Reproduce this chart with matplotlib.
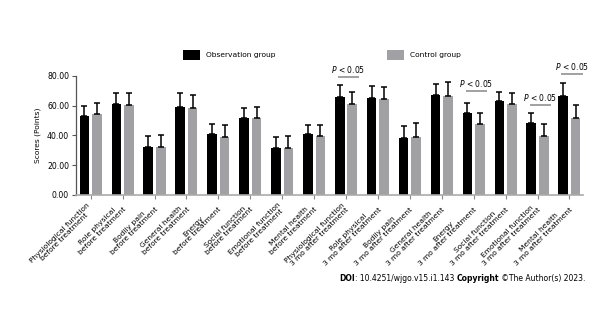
import numpy as np
import matplotlib
matplotlib.use("Agg")
import matplotlib.pyplot as plt
from matplotlib.patches import Patch

# Data
labels = [
    "Physiological function\nbefore treatment",
    "Role physical\nbefore treatment",
    "Bodily pain\nbefore treatment",
    "General health\nbefore treatment",
    "Energy\nbefore treatment",
    "Social function\nbefore treatment",
    "Emotional function\nbefore treatment",
    "Mental health\nbefore treatment",
    "Physiological function\n3 mo after treatment",
    "Role physical\n3 mo after treatment",
    "Bodily pain\n3 mo after treatment",
    "General health\n3 mo after treatment",
    "Energy\n3 mo after treatment",
    "Social function\n3 mo after treatment",
    "Emotional function\n3 mo after treatment",
    "Mental health\n3 mo after treatment",
]
obs_mean = [52.7, 60.7, 32.2, 59.2, 40.7, 51.6, 31.8, 40.6,
            65.6, 65.1, 38.4, 67.1, 55.3, 62.7, 48.2, 66.7]
obs_sd = [6.8, 8.0, 7.3, 8.9, 7.1, 6.8, 7.1, 6.2,
          8.2, 7.8, 7.8, 7.1, 6.5, 6.2, 6.9, 8.2]
ctl_mean = [54.6, 60.4, 32.2, 58.4, 38.9, 51.6, 31.5, 39.6,
            61.1, 64.4, 38.9, 66.7, 47.8, 61.1, 39.3, 51.6]
ctl_sd = [7.4, 8.0, 8.0, 8.9, 8.2, 7.7, 7.8, 7.1,
          7.8, 7.8, 9.3, 8.9, 7.1, 7.1, 8.0, 8.8]
sig_groups = [8, 12, 14, 15]
sig_offset = [5.0, 8.0, 5.0, 6.0]

fs = 5.4

fig = plt.figure(figsize=(6.1, 3.35), dpi=100)
ax = fig.add_axes([0.1246, 0.418, 0.956 - 0.1246, 0.774 - 0.418])

x = np.arange(len(labels))
w = 0.30
off = 0.196
gray = "#a1a1a5"
zeros = np.zeros(len(x))

ax.bar(x - off, obs_mean, w, color="black",
       yerr=[zeros, obs_sd], ecolor="black",
       error_kw=dict(elinewidth=1.1, capsize=2.2, capthick=1.1))
ax.bar(x + off, ctl_mean, w, color=gray,
       yerr=[zeros, ctl_sd], ecolor="black",
       error_kw=dict(elinewidth=1.1, capsize=2.2, capthick=1.1))

# significance marks
for g, o in zip(sig_groups, sig_offset):
    top = max(obs_mean[g] + obs_sd[g], ctl_mean[g] + ctl_sd[g]) + o
    ax.plot([g - 0.25, g + 0.42], [top, top], color="#9a9a9a", lw=1.3,
            solid_capstyle="butt", clip_on=False)
    ax.text(g + 0.08, top + 1.6, "$\\mathit{P}$ < 0.05", ha="center",
            va="bottom", fontsize=fs + 0.1, clip_on=False)

ax.set_xlim(-0.46, 15.43)
ax.set_ylim(0, 80)
ax.set_yticks([0, 20, 40, 60, 80])
ax.set_yticklabels(["%.2f" % v for v in [0, 20, 40, 60, 80]], fontsize=fs + 0.2)
ax.set_ylabel("Scores (Points)", fontsize=fs, labelpad=4)
ax.set_xticks(x)
ax.set_xticklabels(labels, rotation=45, ha="right", va="center",
                   rotation_mode="anchor", fontsize=fs,
                   multialignment="center", linespacing=1.0)
ax.tick_params(axis="x", length=3, width=0.8, color="#888888", pad=5)
ax.tick_params(axis="y", length=3, width=0.8, color="#555555", pad=2)
for s in ["top", "right"]:
    ax.spines[s].set_visible(False)
ax.spines["left"].set_color("#555555")
ax.spines["bottom"].set_color("#aaaaaa")
ax.spines["left"].set_linewidth(0.9)
ax.spines["bottom"].set_linewidth(1.2)

# legend entries, placed separately like the original
for color, name, xpos in [("black", "Observation group", 183 / 610),
                          (gray, "Control group", 387 / 610)]:
    fig.legend(handles=[Patch(facecolor=color, label=name)],
               loc="center left", bbox_to_anchor=(xpos, 0.836),
               frameon=False, fontsize=fs, handlelength=2.3,
               handleheight=1.5, handletextpad=0.8, borderaxespad=0,
               borderpad=0)

# footer
t1 = fig.text(0.556, 0.17, "DOI", fontsize=fs + 0.1, fontweight="bold",
              va="center")
t2 = ax.annotate(": 10.4251/wjgo.v15.i1.143 ", xy=(1, 0), xycoords=t1,
                 fontsize=fs + 0.1, va="bottom")
t3 = ax.annotate("Copyright", xy=(1, 0), xycoords=t2, fontsize=fs + 0.1,
                 fontweight="bold", va="bottom")
ax.annotate(" \u00a9The Author(s) 2023.", xy=(1, 0), xycoords=t3,
            fontsize=fs + 0.1, va="bottom")

fig.savefig("out.png", dpi=100)
